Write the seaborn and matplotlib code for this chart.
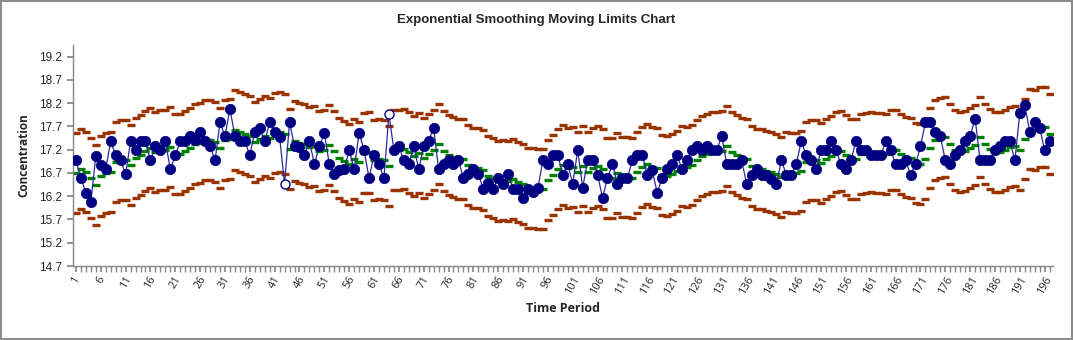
import numpy as np
import pandas as pd
import matplotlib
matplotlib.use("Agg")
import matplotlib.pyplot as plt
import seaborn as sns

period = list(range(1, 198))

concentration = [
    16.97, 16.59, 16.28, 16.08, 17.07, 16.88, 16.79, 17.38, 17.08, 16.97,
    16.67, 17.38, 17.19, 17.38, 17.38, 16.97, 17.27, 17.19, 17.38, 16.78,
    17.08, 17.38, 17.38, 17.49, 17.40, 17.58, 17.38, 17.27, 16.97, 17.79,
    17.49, 18.08, 17.49, 17.38, 17.38, 17.08, 17.58, 17.67, 17.38, 17.79,
    17.58, 17.47, 16.46, 17.79, 17.27, 17.26, 17.08, 17.38, 16.89, 17.27,
    17.56, 16.89, 16.67, 16.77, 16.78, 17.19, 16.78, 17.56, 17.19, 16.59,
    17.08, 16.89, 16.59, 17.97, 17.19, 17.27, 16.97, 16.89, 17.27, 16.78,
    17.27, 17.39, 17.67, 16.78, 16.89, 16.97, 16.89, 16.97, 16.59, 16.68,
    16.78, 16.67, 16.36, 16.48, 16.36, 16.59, 16.47, 16.67, 16.36, 16.36,
    16.17, 16.36, 16.29, 16.38, 16.97, 16.89, 17.08, 17.08, 16.66, 16.89,
    16.47, 17.19, 16.38, 16.97, 16.97, 16.66, 16.17, 16.59, 16.89, 16.47,
    16.59, 16.59, 16.97, 17.08, 17.08, 16.66, 16.76, 16.28, 16.59, 16.78,
    16.89, 17.08, 16.78, 16.97, 17.19, 17.27, 17.19, 17.27, 17.19, 17.19,
    17.49, 16.89, 16.89, 16.89, 16.97, 16.47, 16.66, 16.78, 16.66, 16.66,
    16.58, 16.47, 16.97, 16.66, 16.66, 16.89, 17.38, 17.08, 16.97, 16.78,
    17.19, 17.19, 17.38, 17.19, 16.89, 16.78, 16.97, 17.38, 17.19, 17.19,
    17.08, 17.08, 17.08, 17.38, 17.19, 16.89, 16.89, 16.97, 16.66, 16.89,
    17.27, 17.79, 17.79, 17.58, 17.49, 16.97, 16.89, 17.08, 17.19, 17.38,
    17.49, 17.87, 16.97, 16.97, 16.97, 17.19, 17.27, 17.38, 17.38, 16.97,
    17.99, 18.17, 17.58, 17.79, 17.67, 17.19, 17.38,
]

center = [
    16.70, 16.78, 16.72, 16.59, 16.44, 16.63, 16.70, 16.73, 16.93, 16.97,
    16.97, 16.88, 17.03, 17.08, 17.17, 17.23, 17.15, 17.19, 17.19, 17.25,
    17.11, 17.10, 17.18, 17.24, 17.32, 17.34, 17.41, 17.40, 17.36, 17.24,
    17.41, 17.43, 17.63, 17.59, 17.53, 17.49, 17.37, 17.43, 17.50, 17.46,
    17.56, 17.57, 17.54, 17.22, 17.39, 17.35, 17.32, 17.25, 17.29, 17.17,
    17.20, 17.31, 17.18, 17.03, 16.95, 16.90, 16.99, 16.93, 17.12, 17.14,
    16.98, 17.01, 16.97, 16.86, 17.19, 17.19, 17.21, 17.14, 17.07, 17.13,
    17.03, 17.10, 17.19, 17.33, 17.17, 17.09, 17.05, 17.00, 16.99, 16.87,
    16.81, 16.80, 16.76, 16.64, 16.59, 16.52, 16.54, 16.52, 16.56, 16.50,
    16.46, 16.37, 16.37, 16.35, 16.36, 16.54, 16.65, 16.78, 16.87, 16.81,
    16.83, 16.72, 16.86, 16.72, 16.80, 16.85, 16.79, 16.60, 16.60, 16.69,
    16.62, 16.61, 16.60, 16.71, 16.82, 16.90, 16.83, 16.81, 16.65, 16.63,
    16.68, 16.74, 16.84, 16.82, 16.87, 16.97, 17.06, 17.10, 17.15, 17.16,
    17.17, 17.27, 17.16, 17.08, 17.02, 17.01, 16.85, 16.79, 16.79, 16.75,
    16.72, 16.68, 16.62, 16.72, 16.70, 16.69, 16.75, 16.94, 16.98, 16.98,
    16.92, 17.00, 17.06, 17.16, 17.17, 17.09, 17.00, 16.99, 17.11, 17.13,
    17.15, 17.13, 17.12, 17.11, 17.19, 17.19, 17.10, 17.04, 17.02, 16.91,
    16.90, 17.01, 17.24, 17.41, 17.46, 17.47, 17.32, 17.19, 17.16, 17.17,
    17.23, 17.31, 17.48, 17.33, 17.22, 17.15, 17.16, 17.19, 17.25, 17.29,
    17.19, 17.43, 17.65, 17.63, 17.68, 17.68, 17.53,
]

ucl = [
    17.56, 17.64, 17.58, 17.45, 17.30, 17.49, 17.56, 17.59, 17.79, 17.83,
    17.83, 17.74, 17.89, 17.94, 18.03, 18.09, 18.01, 18.05, 18.05, 18.11,
    17.97, 17.96, 18.04, 18.10, 18.18, 18.20, 18.27, 18.26, 18.22, 18.10,
    18.27, 18.29, 18.49, 18.45, 18.39, 18.35, 18.23, 18.29, 18.36, 18.32,
    18.42, 18.43, 18.40, 18.08, 18.25, 18.21, 18.18, 18.11, 18.15, 18.03,
    18.06, 18.17, 18.04, 17.89, 17.81, 17.76, 17.85, 17.79, 17.98, 18.00,
    17.84, 17.87, 17.83, 17.72, 18.05, 18.05, 18.07, 18.00, 17.93, 17.99,
    17.89, 17.96, 18.05, 18.19, 18.03, 17.95, 17.91, 17.86, 17.85, 17.73,
    17.67, 17.66, 17.62, 17.50, 17.45, 17.38, 17.40, 17.38, 17.42, 17.36,
    17.32, 17.23, 17.23, 17.21, 17.22, 17.40, 17.51, 17.64, 17.73, 17.67,
    17.69, 17.58, 17.72, 17.58, 17.66, 17.71, 17.65, 17.46, 17.46, 17.55,
    17.48, 17.47, 17.46, 17.57, 17.68, 17.76, 17.69, 17.67, 17.51, 17.49,
    17.54, 17.60, 17.70, 17.68, 17.73, 17.83, 17.92, 17.96, 18.01, 18.02,
    18.03, 18.13, 18.02, 17.94, 17.88, 17.87, 17.71, 17.65, 17.65, 17.61,
    17.58, 17.54, 17.48, 17.58, 17.56, 17.55, 17.61, 17.80, 17.84, 17.84,
    17.78, 17.86, 17.92, 18.02, 18.03, 17.95, 17.86, 17.85, 17.97, 17.99,
    18.01, 17.99, 17.98, 17.97, 18.05, 18.05, 17.96, 17.90, 17.88, 17.77,
    17.76, 17.87, 18.10, 18.27, 18.32, 18.33, 18.18, 18.05, 18.02, 18.03,
    18.09, 18.17, 18.34, 18.19, 18.08, 18.01, 18.02, 18.05, 18.11, 18.15,
    18.05, 18.29, 18.51, 18.49, 18.54, 18.54, 18.39,
]

lcl = [
    15.84, 15.92, 15.86, 15.73, 15.58, 15.77, 15.84, 15.87, 16.07, 16.11,
    16.11, 16.02, 16.17, 16.22, 16.31, 16.37, 16.29, 16.33, 16.33, 16.39,
    16.25, 16.24, 16.32, 16.38, 16.46, 16.48, 16.55, 16.54, 16.50, 16.38,
    16.55, 16.57, 16.77, 16.73, 16.67, 16.63, 16.51, 16.57, 16.64, 16.60,
    16.70, 16.71, 16.68, 16.36, 16.53, 16.49, 16.46, 16.39, 16.43, 16.31,
    16.34, 16.45, 16.32, 16.17, 16.09, 16.04, 16.13, 16.07, 16.26, 16.28,
    16.12, 16.15, 16.11, 16.00, 16.33, 16.33, 16.35, 16.28, 16.21, 16.27,
    16.17, 16.24, 16.33, 16.47, 16.31, 16.23, 16.19, 16.14, 16.13, 16.01,
    15.95, 15.94, 15.90, 15.78, 15.73, 15.66, 15.68, 15.66, 15.70, 15.64,
    15.60, 15.51, 15.51, 15.49, 15.50, 15.68, 15.79, 15.92, 16.01, 15.95,
    15.97, 15.86, 16.00, 15.86, 15.94, 15.99, 15.93, 15.74, 15.74, 15.83,
    15.76, 15.75, 15.74, 15.85, 15.96, 16.04, 15.97, 15.95, 15.79, 15.77,
    15.82, 15.88, 15.98, 15.96, 16.01, 16.11, 16.20, 16.24, 16.29, 16.30,
    16.31, 16.41, 16.30, 16.22, 16.16, 16.15, 15.99, 15.93, 15.93, 15.89,
    15.86, 15.82, 15.76, 15.86, 15.84, 15.83, 15.89, 16.08, 16.12, 16.12,
    16.06, 16.14, 16.20, 16.30, 16.31, 16.23, 16.14, 16.13, 16.25, 16.27,
    16.29, 16.27, 16.26, 16.25, 16.33, 16.33, 16.24, 16.18, 16.16, 16.05,
    16.04, 16.15, 16.38, 16.55, 16.60, 16.61, 16.46, 16.33, 16.30, 16.31,
    16.37, 16.45, 16.62, 16.47, 16.36, 16.29, 16.30, 16.33, 16.39, 16.43,
    16.33, 16.57, 16.79, 16.77, 16.82, 16.82, 16.67,
]

y_ticks = [14.7, 15.2, 15.7, 16.2, 16.7, 17.2, 17.7, 18.2, 18.7, 19.2]
x_tick_labels = list(range(1, 198, 5))

df = pd.DataFrame({"period": period, "value": concentration,
                   "center": center, "ucl": ucl, "lcl": lcl})
df["out"] = (df["value"] > df["ucl"]) | (df["value"] < df["lcl"])

sns.set_theme(style="white")
plt.rcParams["font.family"] = ["Liberation Sans", "DejaVu Sans"]

fig = plt.figure(figsize=(10.73, 3.40), dpi=100, edgecolor="#8c8c8c", linewidth=1.5)
ax = fig.add_axes([0.068, 0.2176, 0.913, 0.65])

navy = "#000080"
brown = "#993300"
green = "#008000"

# limits and center as short dashes
for col, colr in [("ucl", brown), ("lcl", brown), ("center", green)]:
    sns.lineplot(data=df, x="period", y=col, ax=ax, linestyle="", marker="_",
                 markersize=6, markeredgewidth=2.4, color=colr,
                 markeredgecolor=colr, estimator=None, zorder=2)

# data line
sns.lineplot(data=df, x="period", y="value", ax=ax, color="#2a2a9a", linewidth=0.9,
             estimator=None, zorder=3)
inn = df[~df["out"]]
outl = df[df["out"]]
sns.lineplot(data=inn, x="period", y="value", ax=ax, linestyle="", marker="o",
             markersize=7.5, markerfacecolor=navy, markeredgecolor=navy,
             markeredgewidth=0.5, color=navy, estimator=None, zorder=4)
sns.lineplot(data=outl, x="period", y="value", ax=ax, linestyle="", marker="o",
             markersize=6.5, markerfacecolor="white", markeredgecolor=navy,
             markeredgewidth=1.0, color=navy, estimator=None, zorder=4)

ax.set_xlim(0.4, 197.6)
ax.set_ylim(14.7, 19.45)
ax.set_yticks(y_ticks)
ax.set_yticklabels([f"{v:.1f}" for v in y_ticks], fontsize=8.5,
                   family=["Liberation Sans Narrow", "Liberation Sans", "DejaVu Sans"])
ax.set_xticks(x_tick_labels)
ax.set_xticklabels([str(v) for v in x_tick_labels], rotation=60, fontsize=8,
                   ha="center", va="top", family=["Open Sans", "DejaVu Sans"])
ax.set_xticks(period, minor=True)

for s in ["top", "right"]:
    ax.spines[s].set_visible(False)
for s in ["left", "bottom"]:
    ax.spines[s].set_color("#868686")
    ax.spines[s].set_linewidth(1.0)

ax.tick_params(axis="y", which="major", direction="out", length=4, color="#868686",
               left=True, pad=4)
ax.tick_params(axis="x", which="major", direction="out", length=4, color="#868686",
               bottom=True, pad=2)
ax.tick_params(axis="x", which="minor", direction="out", length=4, color="#868686",
               bottom=True)

ax.set_xlabel("Time Period", fontsize=9, fontweight="bold",
              family=["Open Sans", "DejaVu Sans"], labelpad=4)
ax.set_ylabel("Concentration", fontsize=8.5, fontweight="bold",
              family=["Open Sans", "DejaVu Sans"], labelpad=6)
ax.grid(False)

fig.text(0.5, 0.94, "Exponential Smoothing Moving Limits Chart", ha="center",
         va="center", fontsize=9.5, fontweight="bold",
         family=["Liberation Sans Narrow", "Liberation Sans", "DejaVu Sans"])

fig.savefig("out.png", dpi=100, edgecolor=fig.get_edgecolor(), facecolor="white")
